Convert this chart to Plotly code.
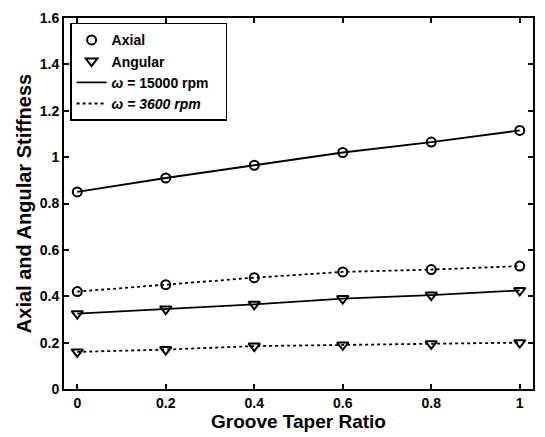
import plotly.graph_objects as go

x = [0, 0.2, 0.4, 0.6, 0.8, 1.0]
axial_15000 = [0.85, 0.91, 0.965, 1.02, 1.065, 1.115]
axial_3600 = [0.42, 0.45, 0.48, 0.505, 0.515, 0.53]
angular_15000 = [0.325, 0.345, 0.365, 0.39, 0.405, 0.425]
angular_3600 = [0.16, 0.17, 0.185, 0.19, 0.195, 0.20]
xticks = ["0", "0.2", "0.4", "0.6", "0.8", "1"]
yvals = [0, 0.2, 0.4, 0.6, 0.8, 1.0, 1.2, 1.4, 1.6]
yticks = ["0", "0.2", "0.4", "0.6", "0.8", "1", "1.2", "1.4", "1.6"]

fig = go.Figure()
circ = dict(symbol="circle-open", size=9, color="black", line=dict(width=2))
tri = dict(symbol="triangle-down-open", size=10, color="black", line=dict(width=2))

for y, m, dash in [(axial_15000, circ, "solid"), (axial_3600, circ, "dot"),
                   (angular_15000, tri, "solid"), (angular_3600, tri, "dot")]:
    fig.add_trace(go.Scatter(x=x, y=y, mode="lines+markers", marker=m,
                             line=dict(color="black", width=1.8, dash=dash), showlegend=False))

fig.add_trace(go.Scatter(x=[None], y=[None], mode="markers", marker=circ, name="Axial"))
fig.add_trace(go.Scatter(x=[None], y=[None], mode="markers", marker=tri, name="Angular"))
fig.add_trace(go.Scatter(x=[None], y=[None], mode="lines", line=dict(color="black", width=1.8),
                         name="<i>ω</i> = 15000 rpm&nbsp;&nbsp;&nbsp;"))
fig.add_trace(go.Scatter(x=[None], y=[None], mode="lines", line=dict(color="black", width=1.8, dash="dot"),
                         name="<i>ω = 3600 rpm</i>"))

bold = dict(family="Liberation Sans", color="black", weight="bold")
axis_common = dict(showline=True, linecolor="black", linewidth=2, mirror="ticks",
                   ticks="inside", ticklen=5, tickwidth=1.5, tickcolor="black",
                   showgrid=False, zeroline=False,
                   tickfont=dict(size=14, **bold))

fig.update_layout(
    width=545, height=437,
    margin=dict(l=64, r=10, t=10, b=48),
    plot_bgcolor="white", paper_bgcolor="white",
    font=dict(family="Liberation Sans", color="black", size=13),
    xaxis=dict(range=[-0.03, 1.03], tickvals=x, ticktext=xticks,
               title=dict(text="Groove Taper Ratio", font=dict(size=19, **bold), standoff=3),
               **axis_common),
    yaxis=dict(range=[0, 1.6], tickvals=yvals, ticktext=yticks,
               title=dict(text="Axial and Angular Stiffness", font=dict(size=20, **bold), standoff=3),
               **axis_common),
    legend=dict(x=0.013, y=0.987, xanchor="left", yanchor="top", bgcolor="white",
                bordercolor="black", borderwidth=1.5,
                font=dict(size=14, **bold),
                tracegroupgap=0, itemwidth=30),
)

fig.write_html("out.html")
